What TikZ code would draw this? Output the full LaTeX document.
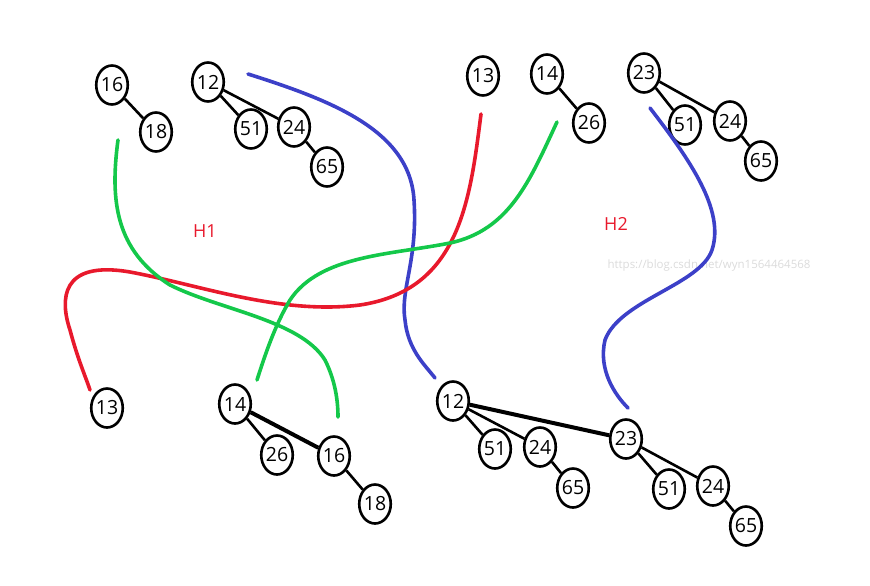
\documentclass[tikz,border=0pt]{standalone}
\usepackage{fontspec}
\setmainfont{Open Sans}
\usetikzlibrary{shapes.geometric}
\definecolor{curveblue}{RGB}{60,64,200}
\definecolor{curvered}{RGB}{232,25,44}
\definecolor{curvegreen}{RGB}{20,200,74}
\begin{document}
\begin{tikzpicture}[x=1pt,y=-1pt,key/.style={ellipse,draw=black,fill=white,line width=2.6pt,minimum width=31pt,minimum height=39pt,inner sep=0pt,font=\fontsize{19.5}{22}\selectfont},link/.style={line width=2.6pt,draw=black},heavylink/.style={line width=4pt,draw=black},heap/.style={text=curvered,font=\fontsize{18}{20}\selectfont},curve/.style={line width=3.6pt,line cap=round}]
\useasboundingbox (0,0) rectangle (870,586);
\node[heap] (h1) at (205,231) {H1};
\node[heap] (h2) at (616,224) {H2};
\node[text=black!14,font=\fontsize{11.5}{13}\selectfont] (wm) at (709,266) {https://blog.csdn.net/wyn1564464568};
\node[key] (a16) at (112,85) {16};
\node[key] (a18) at (156,132) {18};
\node[key] (a12) at (208,82) {12};
\node[key] (a51) at (251,129) {51};
\node[key] (a24) at (294,127) {24};
\node[key] (a65) at (327,167) {65};
\node[key] (b13) at (483,76) {13};
\node[key] (b14) at (547,74) {14};
\node[key] (b26) at (589,123) {26};
\node[key] (b23) at (644,73) {23};
\node[key] (b51) at (685,125) {51};
\node[key] (b24) at (730,121) {24};
\node[key] (b65) at (761,161) {65};
\node[key] (c13) at (107,408) {13};
\node[key] (c14) at (235,404) {14};
\node[key] (c26) at (277,455) {26};
\node[key] (c16) at (334,456) {16};
\node[key] (c18) at (375,504) {18};
\node[key] (d12) at (453,401) {12};
\node[key] (d51) at (495,449) {51};
\node[key] (d24) at (540,447) {24};
\node[key] (d65) at (573,488) {65};
\node[key] (d23) at (626,439) {23};
\node[key] (e51) at (669,489) {51};
\node[key] (e24) at (713,486) {24};
\node[key] (e65) at (746,526) {65};
\draw[link] (a16) -- (a18);
\draw[link] (a12) -- (a51);
\draw[link] (a12) -- (a24);
\draw[link] (a24) -- (a65);
\draw[link] (b14) -- (b26);
\draw[link] (b23) -- (b51);
\draw[link] (b23) -- (b24);
\draw[link] (b24) -- (b65);
\draw[link] (c14) -- (c26);
\draw[heavylink] (c14) -- (c16);
\draw[link] (c16) -- (c18);
\draw[link] (d12) -- (d51);
\draw[link] (d12) -- (d24);
\draw[link] (d24) -- (d65);
\draw[heavylink] (d12) -- (d23);
\draw[link] (d23) -- (e51);
\draw[link] (d23) -- (e24);
\draw[link] (e24) -- (e65);
% merge curves
\coordinate (bl0) at (248,74);
\coordinate (bl1) at (435,378);
\coordinate (br0) at (650,108);
\coordinate (br1) at (628,408);
\coordinate (r0) at (481,114);
\coordinate (r1) at (90,390);
\coordinate (gl0) at (118,140);
\coordinate (gl1) at (338,417);
\coordinate (gr0) at (557,122);
\coordinate (gr1) at (257,380);
\draw[curve,curveblue] (bl0) .. controls (330,100) and (410,130) .. (414,200) .. controls (418,260) and (400,290) .. (405,320) .. controls (408,350) and (425,365) .. (bl1);
\draw[curve,curveblue] (br0) .. controls (690,160) and (725,210) .. (712,250) .. controls (700,285) and (620,300) .. (605,340) .. controls (598,370) and (615,395) .. (br1);
\draw[curve,curvered] (r0) .. controls (470,200) and (460,290) .. (360,305) .. controls (280,315) and (200,285) .. (130,272) .. controls (60,260) and (60,300) .. (70,330) .. controls (78,360) and (85,375) .. (r1);
\draw[curve,curvegreen] (gl0) .. controls (110,200) and (115,250) .. (170,285) .. controls (220,310) and (300,320) .. (325,360) .. controls (335,380) and (338,400) .. (gl1);
\draw[curve,curvegreen] (gr0) .. controls (530,180) and (510,230) .. (450,243) .. controls (390,255) and (320,255) .. (290,300) .. controls (275,325) and (265,355) .. (gr1);
\end{tikzpicture}
\end{document}
